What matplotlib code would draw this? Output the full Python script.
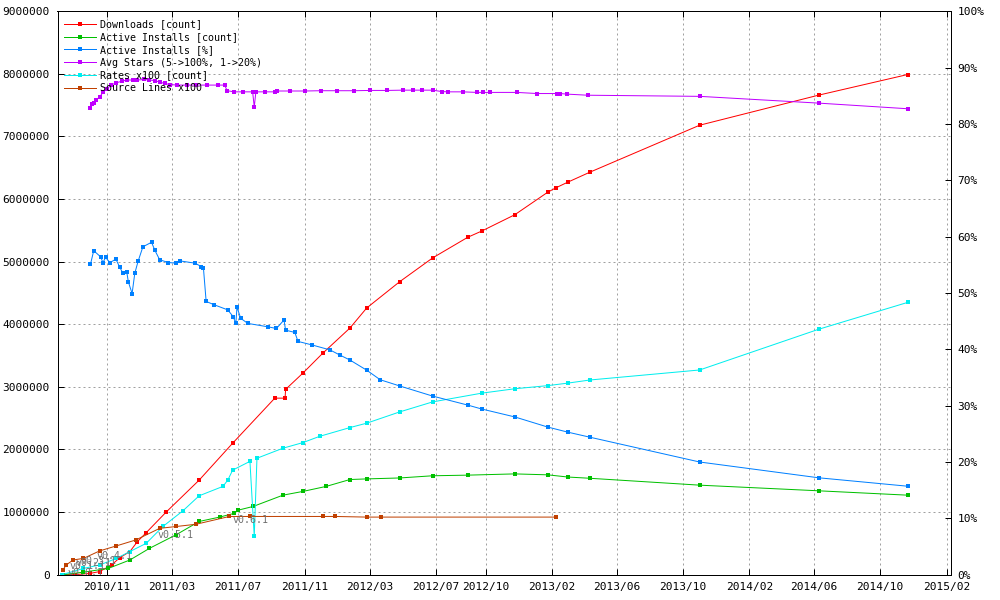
import matplotlib
matplotlib.use("Agg")
import matplotlib.pyplot as plt
import matplotlib.dates as mdates
import pandas as pd

plt.rcParams['font.family'] = ['DejaVu Sans Mono']

# ---- data ----
# Downloads [count]
dl_dates = ["2010-08-11", "2010-09-02", "2010-09-30", "2010-10-18", "2010-11-09", "2010-11-24",
            "2010-12-13", "2010-12-27", "2011-01-12", "2011-02-18", "2011-04-20", "2011-06-21",
            "2011-09-07", "2011-09-26", "2011-09-27", "2011-10-29", "2011-12-05", "2012-01-24",
            "2012-02-24", "2012-04-25", "2012-06-25", "2012-08-29", "2012-09-24", "2012-11-24",
            "2013-01-24", "2013-02-08", "2013-03-02", "2013-04-12", "2013-11-01", "2014-06-09",
            "2014-11-21"]
dl_vals = [0, 0, 20000, 50000, 155000, 270000,
           370000, 530000, 670000, 1000000, 1510000, 2100000,
           2820000, 2820000, 2960000, 3220000, 3540000, 3940000,
           4260000, 4680000, 5060000, 5390000, 5490000, 5750000,
           6110000, 6180000, 6270000, 6430000, 7180000, 7660000,
           7990000]

# Active Installs [count]
ai_dates = ["2010-08-11", "2010-09-18", "2010-11-03", "2010-12-13", "2011-01-18", "2011-03-09",
            "2011-04-20", "2011-05-28", "2011-06-24", "2011-07-01", "2011-07-29", "2011-09-22",
            "2011-10-29", "2011-12-11", "2012-01-24", "2012-02-24", "2012-04-25", "2012-06-25",
            "2012-08-29", "2012-11-24", "2013-01-24", "2013-03-02", "2013-04-12", "2013-11-01",
            "2014-06-09", "2014-11-21"]
ai_vals = [0, 40000, 100000, 235000, 420000, 640000,
           850000, 920000, 980000, 1030000, 1090000, 1270000,
           1330000, 1410000, 1520000, 1530000, 1545000, 1580000,
           1590000, 1610000, 1595000, 1560000, 1540000, 1430000,
           1340000, 1270000]

# Active Installs [%]
ap_dates = ["2010-10-01", "2010-10-07", "2010-10-20", "2010-10-24", "2010-10-29", "2010-11-06",
            "2010-11-17", "2010-11-24", "2010-11-30", "2010-12-07", "2010-12-10", "2010-12-17",
            "2010-12-22", "2010-12-28", "2011-01-06", "2011-01-22", "2011-01-28", "2011-02-06",
            "2011-02-22", "2011-03-09", "2011-03-15", "2011-04-12", "2011-04-24", "2011-04-28",
            "2011-05-03", "2011-05-18", "2011-06-12", "2011-06-22", "2011-06-27", "2011-06-29",
            "2011-07-06", "2011-07-19", "2011-08-25", "2011-09-10", "2011-09-24", "2011-09-27",
            "2011-10-14", "2011-10-20", "2011-11-14", "2011-12-18", "2012-01-05", "2012-01-24",
            "2012-02-24", "2012-03-20", "2012-04-25", "2012-06-25", "2012-08-29", "2012-09-24",
            "2012-11-24", "2013-01-24", "2013-03-02", "2013-04-12", "2013-11-01", "2014-06-09",
            "2014-11-21"]
ap_vals = [55.1, 57.5, 56.4, 55.4, 56.3, 55.4,
           56.0, 54.6, 53.5, 53.8, 52.0, 49.9,
           53.5, 55.6, 58.2, 59.0, 57.6, 55.9,
           55.4, 55.3, 55.7, 55.3, 54.7, 54.4,
           48.5, 47.9, 47.0, 45.8, 44.6, 47.5,
           45.5, 44.6, 44.0, 43.7, 45.2, 43.4,
           43.0, 41.4, 40.8, 39.9, 39.0, 38.1,
           36.3, 34.6, 33.5, 31.7, 30.1, 29.4,
           28.0, 26.2, 25.3, 24.4, 20.0, 17.2,
           15.7]

# Avg Stars (5->100%, 1->20%)
st_dates = ["2010-10-01", "2010-10-04", "2010-10-07", "2010-10-12", "2010-10-18", "2010-10-24",
            "2010-10-31", "2010-11-08", "2010-11-18", "2010-11-28", "2010-12-08", "2010-12-18",
            "2010-12-27", "2011-01-08", "2011-01-18", "2011-01-28", "2011-02-07", "2011-02-15",
            "2011-02-25", "2011-03-11", "2011-03-28", "2011-04-15", "2011-05-05", "2011-05-25",
            "2011-06-06", "2011-06-11", "2011-06-24", "2011-07-10", "2011-07-28", "2011-07-31",
            "2011-08-03", "2011-08-20", "2011-09-07", "2011-09-12", "2011-10-05", "2011-11-02",
            "2011-12-01", "2012-01-01", "2012-02-01", "2012-03-01", "2012-04-01", "2012-05-01",
            "2012-05-20", "2012-06-05", "2012-06-25", "2012-07-12", "2012-07-23", "2012-08-20",
            "2012-09-15", "2012-09-26", "2012-10-09", "2012-11-28", "2013-01-04", "2013-02-10",
            "2013-02-16", "2013-02-28", "2013-04-08", "2013-11-01", "2014-06-09", "2014-11-21"]
st_vals = [82.8, 83.5, 83.8, 84.3, 84.8, 85.6,
           86.2, 86.9, 87.3, 87.6, 87.8, 87.8,
           87.8, 87.9, 87.8, 87.7, 87.4, 87.2,
           87.0, 86.9, 86.9, 86.9, 86.9, 86.9,
           86.9, 85.9, 85.7, 85.7, 85.7, 83.0,
           85.7, 85.7, 85.7, 85.85, 85.85, 85.85,
           85.9, 85.9, 85.9, 85.95, 85.95, 86.0,
           86.0, 86.0, 86.0, 85.75, 85.7, 85.7,
           85.6, 85.6, 85.6, 85.6, 85.4, 85.4,
           85.4, 85.3, 85.1, 84.9, 83.7, 82.7]

# Rates x100 [count]
rt_dates = ["2010-08-09", "2010-09-18", "2010-10-18", "2010-11-18", "2010-12-13", "2011-01-12",
            "2011-02-12", "2011-03-21", "2011-04-20", "2011-06-03", "2011-06-12", "2011-06-21",
            "2011-07-23", "2011-07-31", "2011-08-05", "2011-09-22", "2011-10-29", "2011-11-29",
            "2012-01-24", "2012-02-24", "2012-04-25", "2012-06-25", "2012-09-24", "2012-11-24",
            "2013-01-24", "2013-03-02", "2013-04-12", "2013-11-01", "2014-06-09", "2014-11-21"]
rt_vals = [0, 100000, 155000, 260000, 370000, 500000,
           770000, 1020000, 1260000, 1410000, 1510000, 1670000,
           1810000, 610000, 1860000, 2020000, 2110000, 2210000,
           2350000, 2420000, 2600000, 2760000, 2900000, 2970000,
           3020000, 3060000, 3110000, 3270000, 3920000, 4350000]

# Source Lines x100
sl_dates = ["2010-08-11", "2010-08-17", "2010-08-30", "2010-09-18", "2010-10-18", "2010-11-18",
            "2010-12-24", "2011-02-06", "2011-03-09", "2011-04-14", "2011-06-15", "2011-07-23",
            "2011-12-05", "2011-12-27", "2012-02-24", "2012-03-22", "2013-02-08"]
sl_vals = [75000, 155000, 235000, 260000, 380000, 460000,
           555000, 740000, 770000, 805000, 930000, 930000,
           930000, 930000, 920000, 920000, 920000]

# version labels
ver_names = ["v0.0.1", "v0.1.1", "v0.2.1", "v0.3.1", "v0.4.1", "v0.5.1", "v0.6.1"]
ver_dates = ["2010-08-20", "2010-08-24", "2010-09-03", "2010-09-12", "2010-10-13", "2011-02-02", "2011-06-21"]
ver_vals = [30000, 140000, 190000, 220000, 300000, 630000, 870000]

tick_dates = ["2010-11-01", "2011-03-01", "2011-07-01", "2011-11-01", "2012-03-01", "2012-07-01",
              "2012-10-01", "2013-02-01", "2013-06-01", "2013-10-01", "2014-02-01", "2014-06-01",
              "2014-10-01", "2015-02-01"]


def d(lst):
    return pd.to_datetime(lst)


fig = plt.figure(figsize=(10, 6), dpi=100)
ax = fig.add_axes([0.0575, 0.0422, 0.8935, 0.939])
ax2 = ax.twinx()

px = 0.72  # one pixel in points
mk = dict(marker='s', markersize=2.3, markeredgewidth=0, linewidth=px)

h1, = ax.plot(d(dl_dates), dl_vals, color='#ff0000', label='Downloads [count]', **mk)
h2, = ax.plot(d(ai_dates), ai_vals, color='#00c000', label='Active Installs [count]', **mk)
h3, = ax2.plot(d(ap_dates), ap_vals, color='#0080ff', label='Active Installs [%]', **mk)
h4, = ax2.plot(d(st_dates), st_vals, color='#c000ff', label='Avg Stars (5->100%, 1->20%)', **mk)
h5, = ax.plot(d(rt_dates), rt_vals, color='#00eeee', label='Rates x100 [count]', **mk)
h6, = ax.plot(d(sl_dates), sl_vals, color='#c04000', label='Source Lines x100', **mk)

for name, dt, v in zip(ver_names, d(ver_dates), ver_vals):
    ax.text(dt, v, name, ha='left', va='center', color='#707070', fontsize=7.2)

# axes ranges and ticks
ax.set_xlim(pd.Timestamp("2010-08-01"), pd.Timestamp("2015-02-09"))
ax.set_ylim(0, 9000000)
ax2.set_ylim(0, 100)
ax.set_xticks(d(tick_dates))
ax.xaxis.set_major_formatter(mdates.DateFormatter('%Y/%m'))
ax.set_yticks(range(0, 9000001, 1000000))
ax.set_yticklabels([str(v) for v in range(0, 9000001, 1000000)])
ax2.set_yticks(range(0, 101, 10))
ax2.set_yticklabels([f"{v}%" for v in range(0, 101, 10)])

ax.tick_params(axis='both', direction='in', length=4, width=px, labelsize=8, colors='black')
ax.tick_params(axis='y', pad=5.5, right=False)
ax.tick_params(axis='x', pad=5, top=True)
ax2.tick_params(axis='y', direction='in', length=4, width=px, labelsize=8, pad=4.5)

ax.grid(True, color='#a0a0a0', linestyle=(0, (2, 3)), linewidth=px)
ax.set_axisbelow(True)
for a in (ax, ax2):
    for s in a.spines.values():
        s.set_linewidth(px)
        s.set_color('black')

ax2.legend(handles=[h1, h2, h3, h4, h5, h6], loc='upper left', bbox_to_anchor=(0.003, 0.993),
           frameon=False, fontsize=7.2, handlelength=3.2, handletextpad=0.4,
           labelspacing=0.28, borderaxespad=0.2, borderpad=0.2)

fig.savefig("out.png", dpi=100)
